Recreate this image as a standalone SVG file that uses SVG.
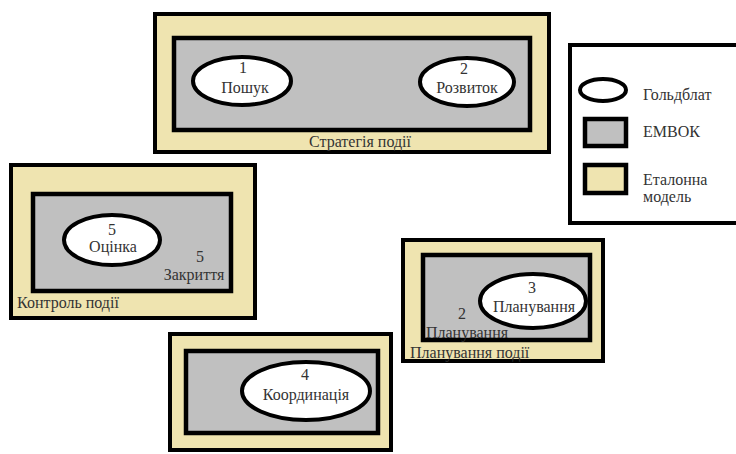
<svg xmlns="http://www.w3.org/2000/svg" width="736" height="454" viewBox="0 0 736 454" font-family="Liberation Serif, Times New Roman, DejaVu Serif, serif">
<defs>
<style>
.model{fill:#EFE4B0;stroke:#000;stroke-width:4}
.embok{fill:#C0C0C0;stroke:#000;stroke-width:4.5}
.gold{fill:#fff;stroke:#000;stroke-width:4}
.legend{fill:#fff;stroke:#000;stroke-width:4}
text{font-family:'Liberation Serif','DejaVu Serif',serif;font-size:16px;fill:#333}
.c{text-anchor:middle}
</style>
</defs>
<rect width="736" height="454" fill="#fff"/>
<g id="strategy">
<rect class="model" x="155" y="14" width="394" height="138"/>
<rect class="embok" x="174" y="38" width="356" height="92"/>
<text class="c" x="360" y="147">Стратегія події</text>
</g>
<g id="search">
<ellipse class="gold" cx="242" cy="81" rx="49" ry="24"/>
<text class="c" x="243" y="73">1</text>
<text class="c" x="245" y="93">Пошук</text>
</g>
<g id="development">
<ellipse class="gold" cx="467" cy="82" rx="47" ry="24"/>
<text class="c" x="464" y="74">2</text>
<text class="c" x="467" y="93">Розвиток</text>
</g>
<g id="control">
<rect class="model" x="11" y="165" width="244" height="153"/>
<rect class="embok" x="33" y="194" width="198" height="97"/>
<text x="17" y="308">Контроль події</text>
<text class="c" x="200" y="262">5</text>
<text class="c" x="194" y="280">Закриття</text>
</g>
<g id="evaluation">
<ellipse class="gold" cx="112" cy="240" rx="48" ry="25"/>
<text class="c" x="112" y="235">5</text>
<text class="c" x="113" y="252">Оцінка</text>
</g>
<g id="planning">
<rect class="model" x="403" y="240" width="200" height="121"/>
<rect class="embok" x="423" y="255" width="167" height="85"/>
<text x="410" y="358">Планування події</text>
<text class="c" x="462" y="319">2</text>
<text class="c" x="467" y="338">Планування</text>
</g>
<g id="planning3">
<ellipse class="gold" cx="533" cy="301" rx="53" ry="27"/>
<text class="c" x="532" y="293">3</text>
<text class="c" x="534" y="312">Планування</text>
</g>
<g id="coordination">
<rect class="model" x="170" y="334" width="221" height="116"/>
<rect class="embok" x="186" y="351" width="192" height="82"/>
</g>
<g id="coordination4">
<ellipse class="gold" cx="306" cy="391" rx="64" ry="29"/>
<text class="c" x="305" y="380">4</text>
<text class="c" x="306" y="400">Координація</text>
</g>
<g id="legend">
<rect class="legend" x="570" y="45" width="168" height="178"/>
<ellipse class="gold" cx="603" cy="90" rx="23" ry="11"/>
<text x="643" y="100">Гольдблат</text>
<rect class="embok" x="585" y="119" width="41" height="27"/>
<text x="643" y="137">ЕМВОК</text>
<rect class="model" x="585" y="165" width="41" height="28" style="stroke-width:4.5"/>
<text x="643" y="185">Еталонна</text>
<text x="643" y="202">модель</text>
</g>
<g id="connectors"></g>
</svg>
